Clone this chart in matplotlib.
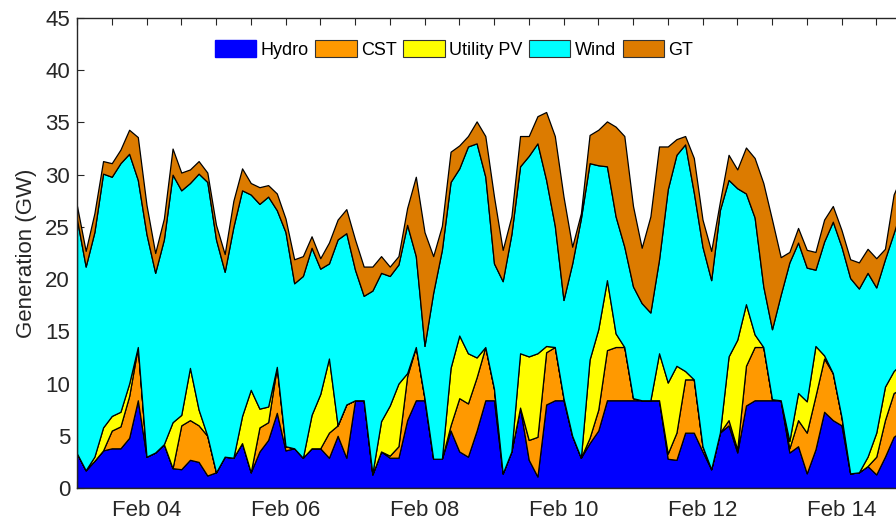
import numpy as np
import matplotlib
matplotlib.use('Agg')
import matplotlib.pyplot as plt
import matplotlib.dates as mdates
from matplotlib.patches import Patch

# 3-hourly generation by source (GW), Feb 03 00:00 onwards
t = np.arange(np.datetime64('2019-02-03T00:00'), np.datetime64('2019-02-15T00:00'),
              np.timedelta64(3, 'h'))

hydro = [3.3, 1.7, 2.6, 3.6, 3.8, 3.8, 4.8, 8.4, 3.0, 3.4, 4.2, 1.9,
         1.8, 2.7, 2.5, 1.2, 1.5, 3.0, 2.9, 4.3, 1.5, 3.5, 4.6, 7.2,
         3.6, 3.8, 2.9, 3.8, 3.8, 2.9, 5.0, 2.9, 8.4, 8.4, 1.3, 3.5,
         2.9, 2.9, 6.5, 8.4, 8.4, 2.8, 2.8, 5.5, 3.5, 3.0, 5.5, 8.4,
         8.4, 1.4, 3.5, 7.7, 2.7, 1.1, 8.0, 8.4, 8.4, 5.0, 2.9, 4.3,
         5.5, 8.4, 8.4, 8.4, 8.4, 8.4, 8.4, 8.4, 2.8, 2.7, 5.3, 5.3,
         3.5, 1.8, 5.3, 6.0, 3.4, 7.9, 8.4, 8.4, 8.4, 8.4, 3.4, 4.0,
         1.4, 3.7, 7.3, 6.5, 6.0, 1.4, 1.5, 2.1, 1.3, 3.0, 4.9, 5.5]

cst = [0, 0, 0, 0, 1.7, 2.1, 4.0, 5.1, 0, 0, 0, 0,
       4.2, 3.8, 3.5, 3.8, 0, 0, 0, 0, 0, 2.3, 1.7, 4.4,
       0.4, 0, 0, 0, 0, 2.4, 1.0, 5.1, 0, 0, 0, 0,
       0.2, 1.1, 4.2, 5.1, 0.2, 0, 0, 0.5, 5.1, 5.1, 5.1, 5.1,
       1.1, 0, 0, 0, 1.9, 3.8, 5.0, 5.1, 0.2, 0, 0, 0.5,
       2.0, 4.8, 5.1, 5.1, 0.2, 0, 0, 0, 0.5, 2.6, 5.1, 5.1,
       0.5, 0, 0, 0.5, 0.3, 3.8, 5.1, 5.1, 0.1, 0, 0.4, 2.5,
       3.9, 5.1, 5.1, 4.5, 0.8, 0, 0, 0, 1.7, 3.5, 4.2, 4.0]

pv = [0, 0, 0.4, 2.2, 1.4, 1.4, 1.2, 0, 0, 0, 0, 4.4,
      1.0, 5.0, 1.5, 0, 0, 0, 0, 2.6, 7.9, 1.8, 1.5, 0,
      0, 0, 0, 3.2, 5.2, 7.1, 0, 0, 0, 0, 0.1, 2.9,
      4.8, 6.0, 0.3, 0, 0, 0, 0, 5.5, 6.0, 4.8, 1.9, 0,
      0, 0, 0, 5.2, 8.0, 8.0, 0.6, 0, 0, 0, 0, 7.5,
      7.7, 6.7, 1.3, 0, 0, 0, 0, 4.5, 6.8, 6.4, 0.8, 0,
      0, 0, 0, 6.1, 10.5, 5.9, 1.2, 0, 0, 0, 0.7, 2.6,
      3.0, 4.8, 0.3, 0, 0, 0, 0, 0.9, 2.3, 3.2, 2.1, 2.5]

wind = [22.4, 19.5, 21.5, 24.3, 22.9, 23.8, 22.0, 16.0, 21.3, 17.2, 19.6, 23.7,
        21.5, 17.7, 22.6, 24.3, 22.3, 17.7, 22.1, 21.6, 18.7, 19.6, 20.1, 15.0,
        20.5, 15.8, 17.4, 16.0, 12.0, 9.1, 17.8, 16.4, 12.5, 10.0, 17.5, 14.2,
        12.4, 11.4, 14.2, 8.7, 5.0, 15.9, 20.0, 17.8, 16.0, 19.8, 20.5, 16.3,
        12.0, 18.4, 20.8, 17.9, 19.2, 20.1, 15.9, 11.6, 9.4, 16.5, 22.9, 18.8,
        15.7, 10.9, 11.2, 9.6, 10.7, 9.3, 8.4, 9.0, 18.5, 20.2, 21.7, 17.9,
        19.1, 18.1, 21.3, 16.9, 14.5, 10.6, 11.2, 5.8, 6.7, 10.1, 17.1, 14.4,
        12.8, 7.3, 10.9, 14.5, 16.3, 18.7, 17.6, 17.6, 13.9, 12.2, 13.2, 15.0]

gt = [1.3, 1.5, 1.8, 1.2, 1.3, 1.3, 2.3, 4.1, 2.8, 1.9, 2.0, 2.5,
      1.7, 1.3, 1.2, 0.9, 1.4, 1.7, 2.5, 2.1, 1.1, 1.6, 1.1, 1.6,
      1.3, 2.3, 1.9, 1.1, 1.0, 2.0, 1.9, 2.3, 2.9, 2.8, 2.3, 1.6,
      0.9, 0.8, 1.6, 7.6, 10.9, 3.5, 2.3, 2.9, 2.2, 1.0, 2.1, 3.9,
      6.4, 3.0, 1.7, 2.9, 1.9, 2.6, 6.5, 8.6, 9.9, 1.6, 0.5, 2.7,
      3.4, 4.3, 8.6, 10.6, 7.7, 5.3, 9.2, 10.8, 4.1, 1.5, 0.8, 3.3,
      2.6, 2.8, 0.8, 2.4, 1.8, 4.4, 5.7, 9.9, 10.5, 3.6, 1.0, 1.4,
      1.7, 1.7, 2.1, 1.5, 1.6, 1.8, 2.5, 2.3, 2.8, 1.0, 3.7, 3.0]

names = ['Hydro', 'CST', 'Utility PV', 'Wind', 'GT']
colors = ['#0000ff', '#ff9900', '#ffff00', '#00ffff', '#dc7b00']

plt.rcParams['font.family'] = ['Liberation Sans', 'DejaVu Sans']

fig = plt.figure(figsize=(8.96, 5.29), dpi=100)
ax = fig.add_axes([77 / 896, 41 / 529, 834 / 896, 470 / 529])

ax.stackplot(t, hydro, cst, pv, wind, gt, colors=colors,
             edgecolor='black', linewidth=0.9)

ax.set_xlim(np.datetime64('2019-02-03T00:00'), np.datetime64('2019-02-15T00:00'))
ax.set_ylim(0, 45)
ax.set_yticks(np.arange(0, 46, 5))

ax.xaxis.set_major_locator(mdates.HourLocator(byhour=[0, 12]))


def date_label(x, pos):
    d = mdates.num2date(x)
    if d.hour == 0 and d.day % 2 == 0:
        return d.strftime('%b %d')
    return ''


ax.xaxis.set_major_formatter(plt.FuncFormatter(date_label))

ax.set_axisbelow(True)
ax.tick_params(direction='in', top=True, right=True, length=5, width=0.8,
               labelsize=16, colors='#262626')
ax.tick_params(axis='x', pad=9)
ax.tick_params(axis='y', pad=5)
for s in ax.spines.values():
    s.set_color('#262626')
    s.set_linewidth(1.0)

ax.set_ylabel('Generation (GW)', fontsize=16, color='#262626')
ax.yaxis.set_label_coords(-0.048, 0.5)

handles = [Patch(facecolor=colors[0], edgecolor=colors[0], label=names[0])]
for c, n in zip(colors[1:], names[1:]):
    handles.append(Patch(facecolor=c, edgecolor='#333333', linewidth=0.8, label=n))

fig.legend(handles=handles, loc='center', ncol=5, frameon=False,
           bbox_to_anchor=(454 / 896, 1 - 49.5 / 529), fontsize=13,
           handlelength=2.3, handleheight=1.0, handletextpad=0.25,
           columnspacing=0.35, borderpad=0.2)

fig.savefig('out.png', dpi=100)
